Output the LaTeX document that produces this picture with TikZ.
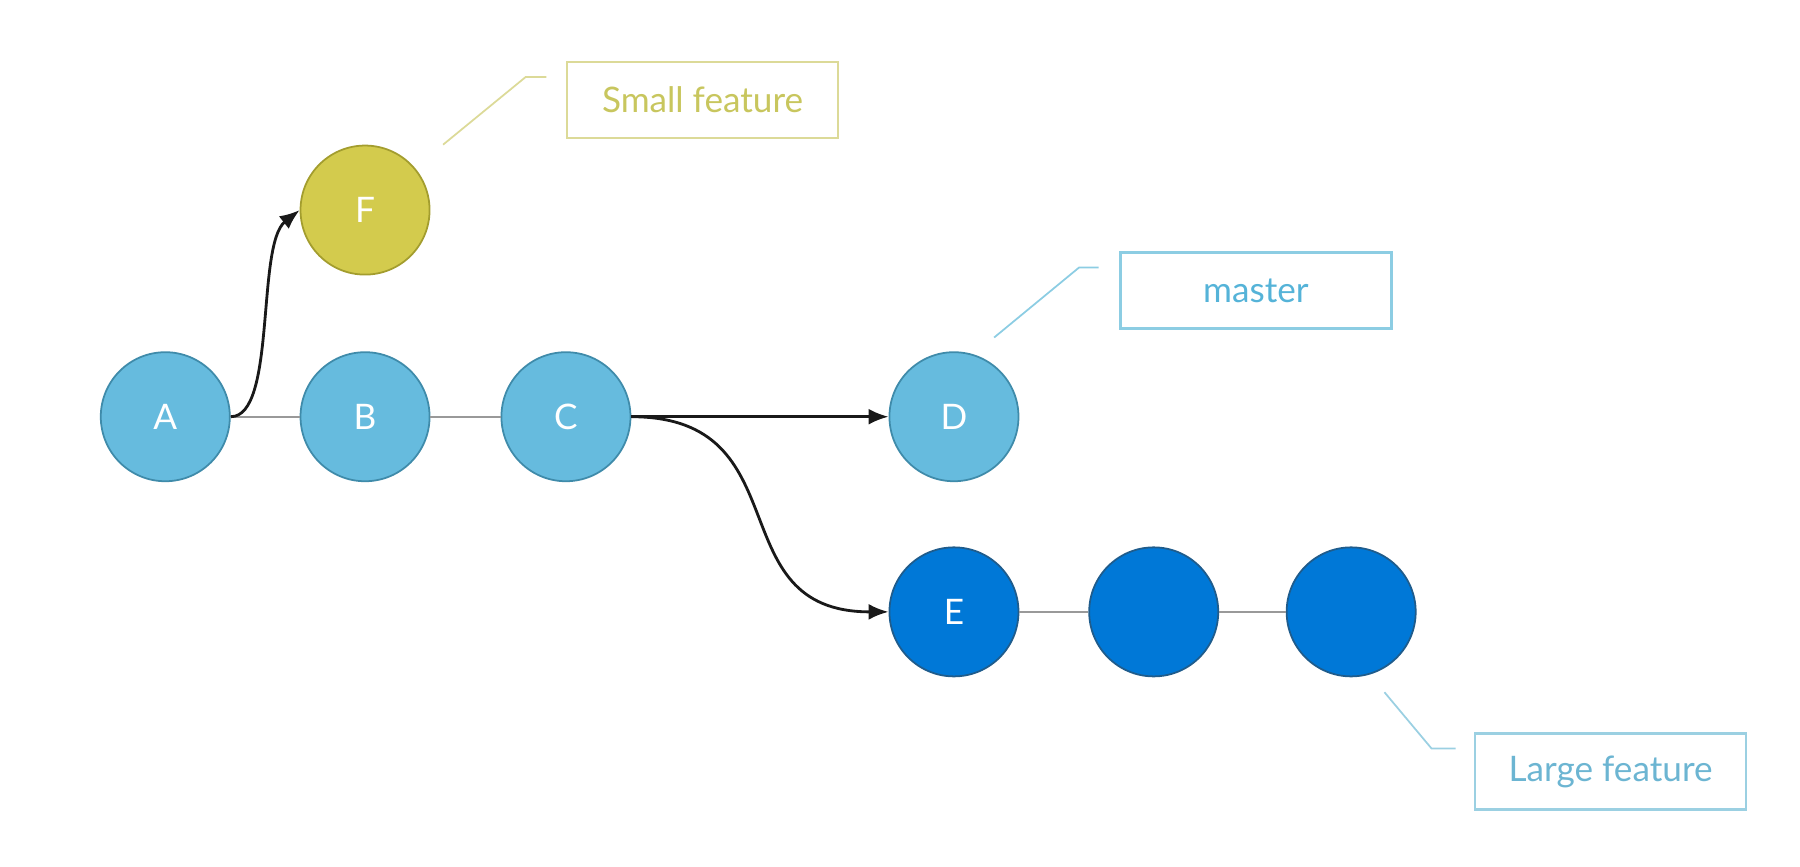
\documentclass[tikz,border=0pt]{standalone}
\usepackage{fontspec}
\setmainfont{Lato}
\usetikzlibrary{arrows.meta}

\definecolor{mainfill}{HTML}{66BBDE}
\definecolor{mainedge}{HTML}{3F8BAA}
\definecolor{largefill}{HTML}{0078D7}
\definecolor{largeedge}{HTML}{1F5C8C}
\definecolor{smallfill}{HTML}{D3CB4D}
\definecolor{smalledge}{HTML}{A39D2E}
\definecolor{smalltext}{HTML}{C8C65E}
\definecolor{smallline}{HTML}{DCDA98}
\definecolor{mastertext}{HTML}{55B3D8}
\definecolor{masterline}{HTML}{8CCDE3}
\definecolor{largetext}{HTML}{6CB5D2}
\definecolor{largeline}{HTML}{9BD0E2}

\begin{document}
\begin{tikzpicture}[x=0.01148cm,y=-0.01148cm,
	commit/.style={circle,minimum size=1.29cm,inner sep=0pt,line width=0.5pt,
	               text=white,font=\fontsize{10}{12}\selectfont},
	oldcommit/.style={commit,fill=mainfill,draw=mainedge},
	newcommit/.style={commit,fill=largefill,draw=largeedge},
	sidecommit/.style={commit,fill=smallfill,draw=smalledge},
	tag/.style={draw=#1,line width=0.7pt,minimum width=2.71cm,minimum height=0.76cm,
	            inner sep=0pt,font=\fontsize{10}{12}\selectfont},
	link/.style={draw=black!40,line width=0.6pt},
	branch/.style={draw=black!90,line width=0.8pt,-{Latex[length=2mm,width=1.6mm]}},
	callout/.style={line width=0.5pt}]
	
	\useasboundingbox (0,0) rectangle (1568,755);
	
	% The commits
	\foreach \name/\x/\y in {A/144/363, B/318/363, C/493/363, D/831/363}{
		\node [oldcommit] (\name) at (\x,\y) {\name};
	}
	\node [newcommit] (E) at (831,533) {E};
	\node [newcommit] (E2) at (1005,533) {};
	\node [newcommit] (E3) at (1177,533) {};
	\node [sidecommit] (F) at (318,183) {F};
	
	% Links between commits
	\foreach \a/\b in {A/B, B/C, E/E2, E2/E3}{
		\draw [link] (\a) -- (\b);
	}
	
	% The branch arrows
	\draw [branch] (A.east) .. controls +(40,0) and +(-38,30) .. (F.west);
	\draw [branch] (C.east) -- (D.west);
	\draw [branch] (C.east) .. controls +(150,0) and +(-150,0) .. (E.west);
	
	% The branch labels
	\node [tag=smallline,text=smalltext] (small) at (612,87) {Small feature};
	\node [tag=masterline,text=mastertext] (master) at (1094,253) {master};
	\node [tag=largeline,text=largetext] (large) at (1403,672) {Large feature};
	
	% Callout lines
	\coordinate (smallfoot) at (386,126);
	\coordinate (masterfoot) at (866,294);
	\coordinate (largefoot) at (1206,603);
	\draw [callout,smallline] (smallfoot) -- (458,67) -- ++(18,0);
	\draw [callout,masterline] (masterfoot) -- (940,233) -- ++(17,0);
	\draw [callout,largeline] (largefoot) -- (1247,652) -- ++(21,0);
	
\end{tikzpicture}
\end{document}
